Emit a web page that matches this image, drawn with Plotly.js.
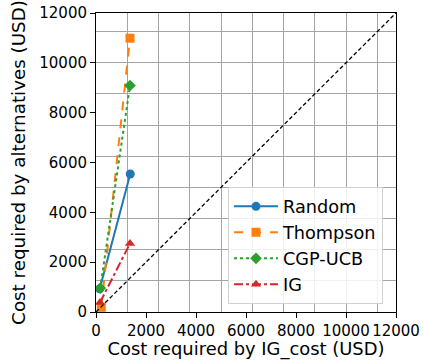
<!DOCTYPE html>
<html>
<head>
<meta charset="utf-8">
<script src="https://cdn.plot.ly/plotly-3.0.1.min.js"></script>
<style>html,body{margin:0;padding:0;background:#fff;}#chart{width:423px;height:360px;}</style>
</head>
<body>
<div id="chart"></div>
<script>
const seriesNames = ["Random", "Thompson", "CGP-UCB", "IG"];
const randomX = [150, 1370];
const randomY = [930, 5540];
const thompsonX = [210, 1360];
const thompsonY = [190, 10990];
const cgpX = [170, 1360];
const cgpY = [960, 9090];
const igX = [160, 1360];
const igY = [380, 2750];
const diagX = [0, 12000];
const diagY = [0, 12000];
const tickVals = [0, 2000, 4000, 6000, 8000, 10000, 12000];
const tickText = ["0", "2000", "4000", "6000", "8000", "10000", "12000"];

const font = "DejaVu Sans, sans-serif";
function tr(x, y, name, color, dash, symbol) {
  return {x: x, y: y, name: name, type: "scatter", mode: "lines+markers",
    line: {color: color, width: 2, dash: dash},
    marker: {color: color, size: 9, symbol: symbol}};
}
const data = [
  tr(randomX, randomY, seriesNames[0], "#1f77b4", "solid", "circle"),
  tr(thompsonX, thompsonY, seriesNames[1], "#ff7f0e", "dash", "square"),
  tr(cgpX, cgpY, seriesNames[2], "#2ca02c", "dot", "diamond"),
  tr(igX, igY, seriesNames[3], "#d62728", "dashdot", "triangle-up"),
  {x: diagX, y: diagY, type: "scatter", mode: "lines", showlegend: false,
   line: {color: "black", width: 1.3, dash: "4px,2.5px"}, hoverinfo: "skip"}
];
function ax(title, standoff, tsize) {
  return {
    range: [0, 12000], tickvals: tickVals, ticktext: tickText,
    showgrid: false, zeroline: false,
    showline: true, linecolor: "black", linewidth: 1, mirror: true,
    ticks: "outside", ticklen: 5, tickcolor: "black", tickwidth: 1,
    tickfont: {family: font, size: 15, color: "black"},
    title: {text: title, standoff: standoff, font: {family: font, size: tsize, color: "black"}},
    minor: {tick0: 0, dtick: 1250, showgrid: true, gridcolor: "#a4a4a4", gridwidth: 1, ticks: ""}
  };
}
const layout = {
  width: 423, height: 360,
  margin: {l: 96, r: 27, t: 13, b: 48},
  paper_bgcolor: "white", plot_bgcolor: "white",
  font: {family: font, color: "black"},
  xaxis: ax("Cost required by IG_cost (USD)", 2, 17.9),
  yaxis: ax("Cost required by alternatives (USD)", 8, 18.3),
  legend: {x: 0.44, y: 0.417, xanchor: "left", yanchor: "top",
    bgcolor: "rgba(255,255,255,0.85)", bordercolor: "#d0d0d0", borderwidth: 1,
    itemwidth: 44,
    font: {family: font, size: 17.7, color: "black"}, tracegroupgap: 0},
  showlegend: true
};
Plotly.newPlot("chart", data, layout, {staticPlot: true, displayModeBar: false});
</script>
</body>
</html>
